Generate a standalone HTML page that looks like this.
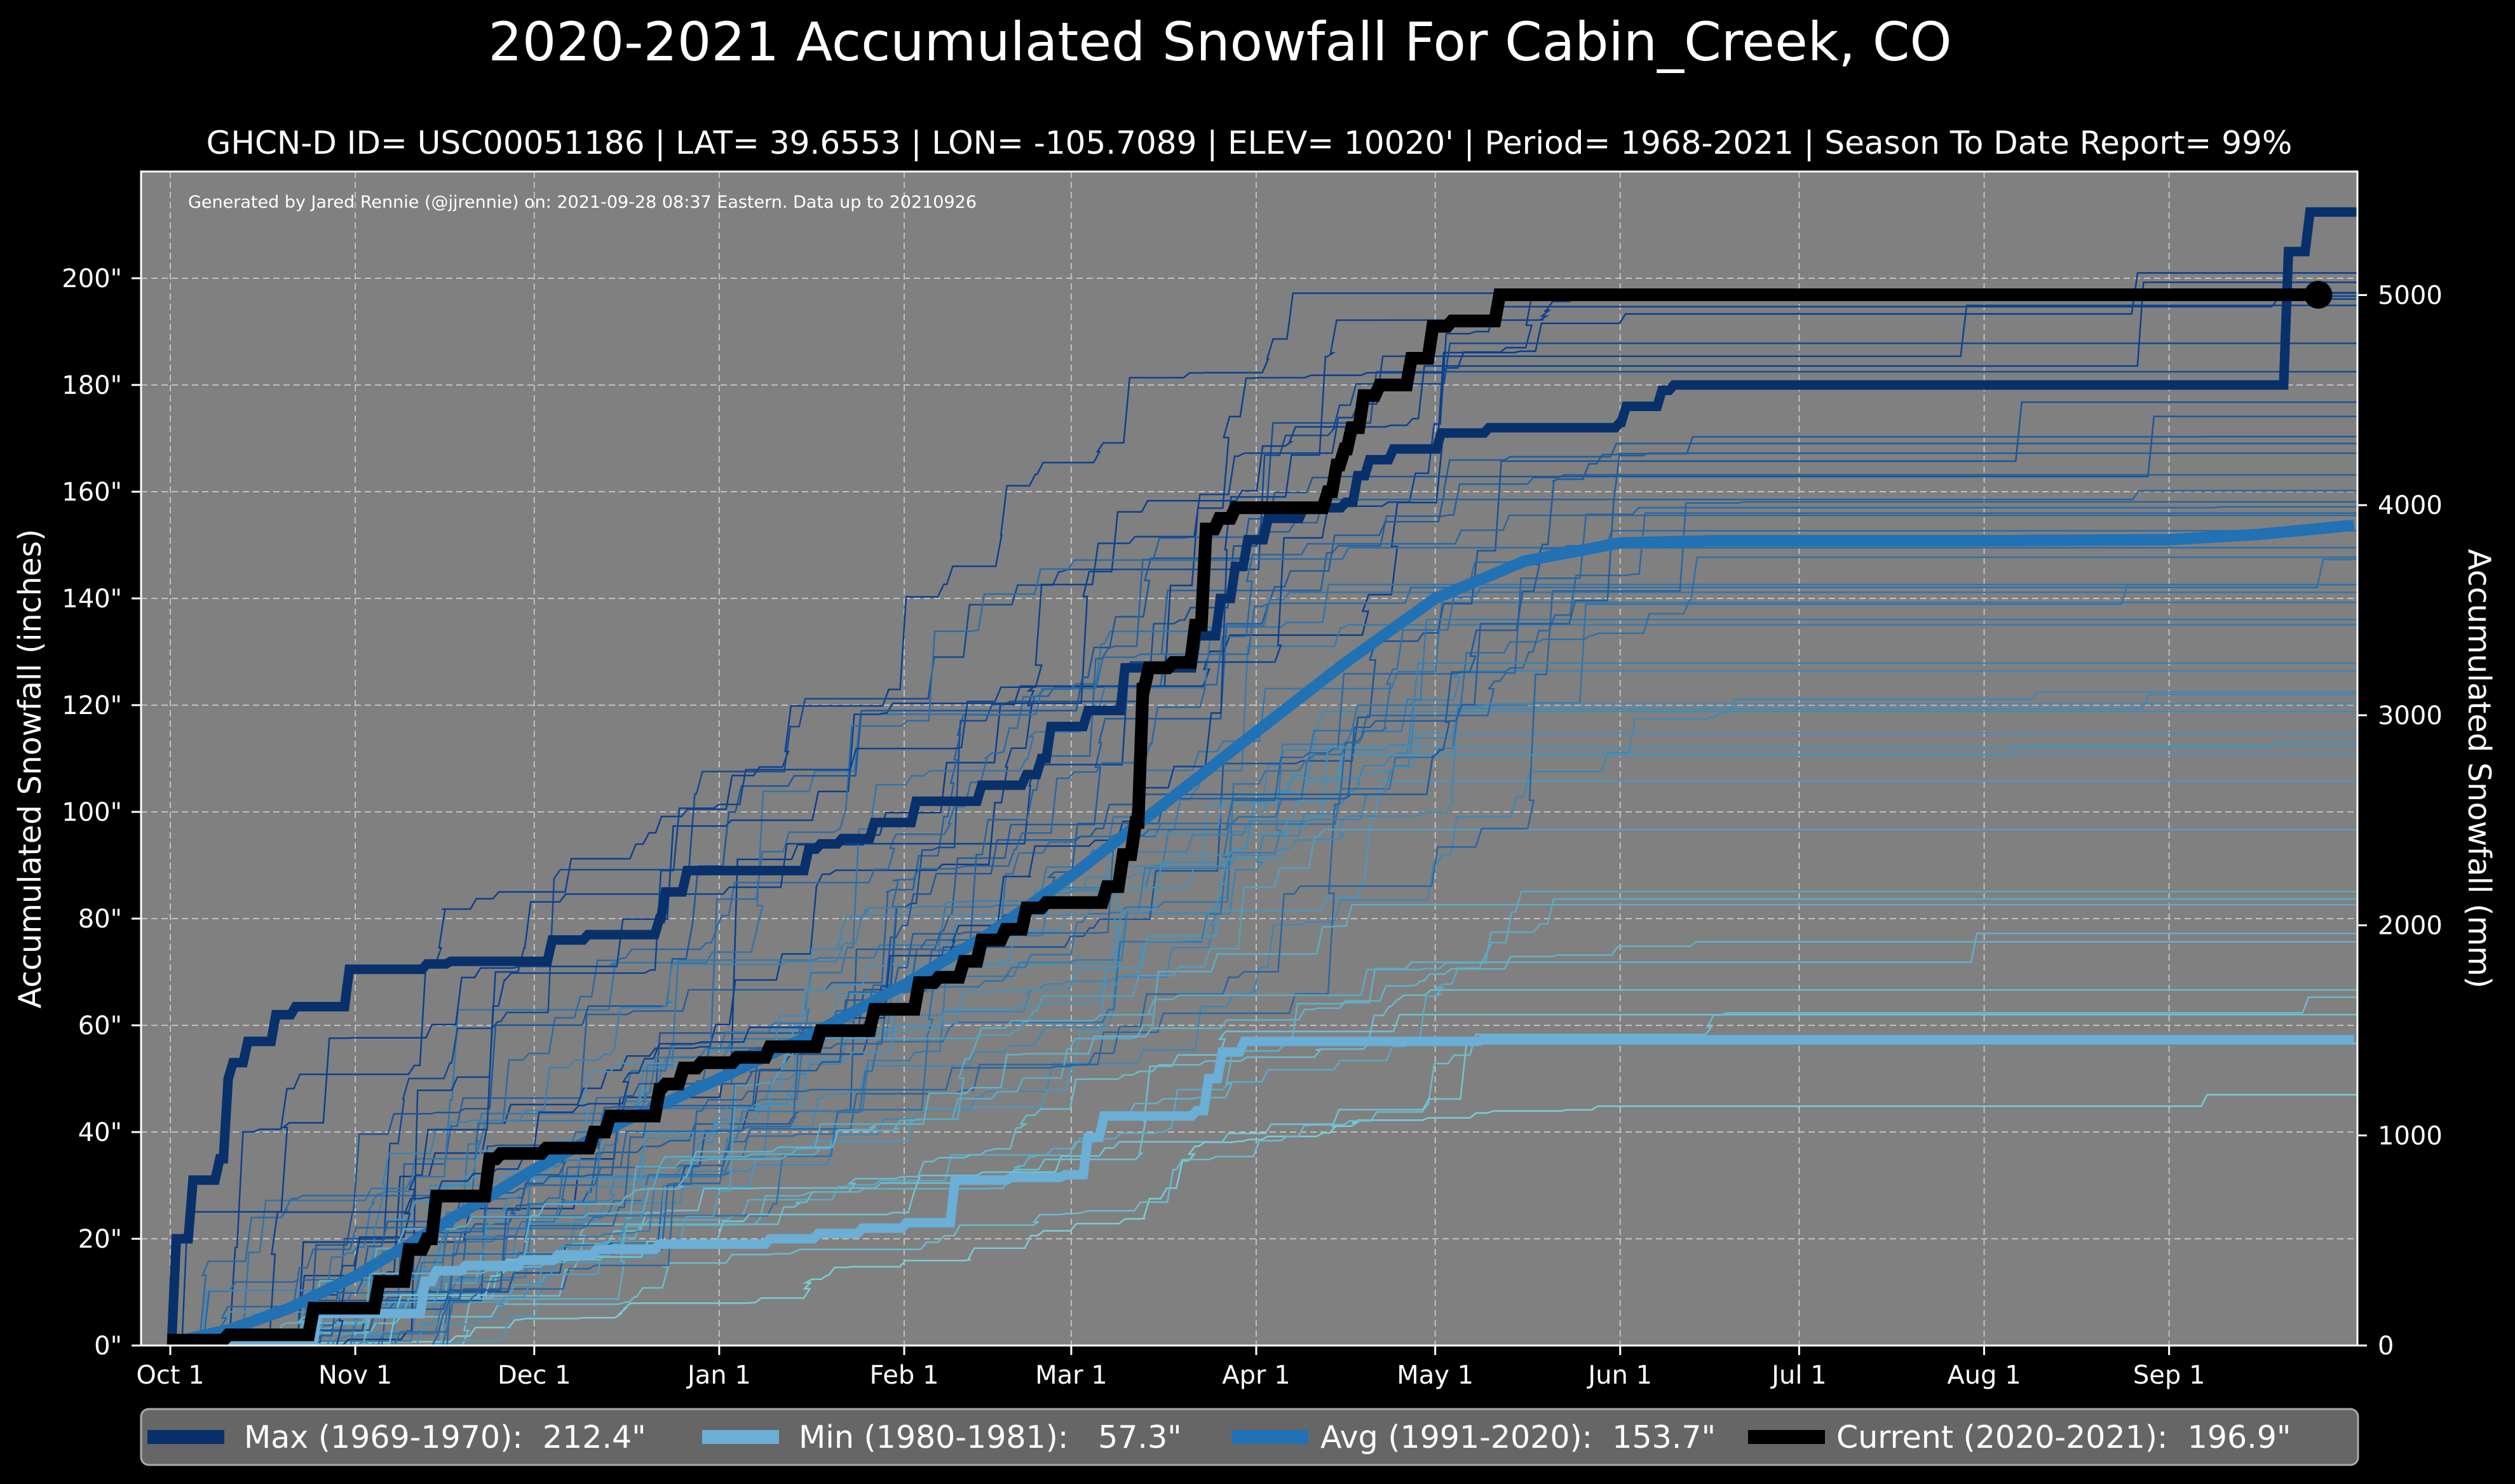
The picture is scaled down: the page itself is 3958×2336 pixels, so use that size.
<!DOCTYPE html>
<html><head><meta charset="utf-8"><style>
html,body{margin:0;padding:0;background:#000;}
svg{display:block;}
text{font-family:"DejaVu Sans","Liberation Sans",sans-serif;fill:#fff;}
</style></head><body>
<svg id="s" width="3958" height="2336" viewBox="0 0 3958 2336" xmlns="http://www.w3.org/2000/svg">
<rect width="3958" height="2336" fill="#000"/>
<text x="1920" y="95" font-size="84" text-anchor="middle">2020-2021 Accumulated Snowfall For Cabin_Creek, CO</text>
<text x="1966" y="242" font-size="50" text-anchor="middle">GHCN-D ID= USC00051186 | LAT= 39.6553 | LON= -105.7089 | ELEV= 10020' | Period= 1968-2021 | Season To Date Report= 99%</text>
<defs><clipPath id="c"><rect x="222" y="270" width="3488" height="1848"/></clipPath></defs>
<rect x="222" y="270" width="3488" height="1848" fill="#808080"/>
<g id="grid"></g>
<g id="bg" clip-path="url(#c)"></g>
<g id="main" clip-path="url(#c)"></g>
<text x="296" y="327" font-size="27">Generated by Jared Rennie (@jjrennie) on: 2021-09-28 08:37 Eastern. Data up to 20210926</text>
<rect x="222" y="270" width="3488" height="1848" fill="none" stroke="#fff" stroke-width="3"/>
<g id="ticks"></g>
<text transform="translate(64,1210) rotate(-90)" font-size="49" text-anchor="middle">Accumulated Snowfall (inches)</text>
<text transform="translate(3885,1210) rotate(90)" font-size="49" text-anchor="middle">Accumulated Snowfall (mm)</text>
<rect x="222" y="2218" width="3489" height="88" rx="12" fill="#666" stroke="#aaa" stroke-width="3"/>
<rect x="232" y="2251" width="121" height="22" fill="#08306b"/>
<text x="384" y="2279" font-size="49" xml:space="preserve">Max (1969-1970):  212.4"</text>
<rect x="1105" y="2251" width="121" height="22" fill="#6baed6"/>
<text x="1257" y="2279" font-size="49" xml:space="preserve">Min (1980-1981):   57.3"</text>
<rect x="1938" y="2251" width="121" height="22" fill="#2171b5"/>
<text x="2078" y="2279" font-size="49" xml:space="preserve">Avg (1991-2020):  153.7"</text>
<rect x="2751" y="2251" width="121" height="22" fill="#000"/>
<text x="2890" y="2279" font-size="49" xml:space="preserve">Current (2020-2021):  196.9"</text>
</svg>
<script>
var NS="http://www.w3.org/2000/svg";
function X(d){return 268+9.39*d;}
function Y(v){return 2118-8.4*v;}
function el(p,tag,attrs,txt){var e=document.createElementNS(NS,tag);for(var k in attrs)e.setAttribute(k,attrs[k]);if(txt!==undefined)e.textContent=txt;document.getElementById(p).appendChild(e);return e;}
var months=[[0,"Oct 1"],[31,"Nov 1"],[61,"Dec 1"],[92,"Jan 1"],[123,"Feb 1"],[151,"Mar 1"],[182,"Apr 1"],[212,"May 1"],[243,"Jun 1"],[273,"Jul 1"],[304,"Aug 1"],[335,"Sep 1"]];
months.forEach(function(m){var x=X(m[0]);
 el("grid","line",{x1:x,x2:x,y1:270,y2:2118,stroke:"#c0c0c0","stroke-width":2,"stroke-dasharray":"10,6"});
 el("ticks","line",{x1:x,x2:x,y1:2118,y2:2133,stroke:"#fff","stroke-width":3});
 el("ticks","text",{x:x,y:2178,"font-size":40,"text-anchor":"middle"},m[1]);});
for(var v=0;v<=200;v+=20){var y=Y(v);
 if(v>0)el("grid","line",{x1:222,x2:3710,y1:y,y2:y,stroke:"#c0c0c0","stroke-width":2,"stroke-dasharray":"10,6"});
 el("ticks","line",{x1:207,x2:222,y1:y,y2:y,stroke:"#fff","stroke-width":3});
 el("ticks","text",{x:192,y:y+14,"font-size":40,"text-anchor":"end"},v+'"');}
for(var mm=0;mm<=5000;mm+=1000){var y=Y(mm/25.4);
 el("ticks","line",{x1:3710,x2:3725,y1:y,y2:y,stroke:"#fff","stroke-width":3});
 el("ticks","text",{x:3742,y:y+14,"font-size":40},String(mm));}
var seed=12345;function R(){seed=(seed*1103515245+12345)%2147483648;return seed/2147483648;}
function lerp(a,b,t){return Math.round(a+(b-a)*t);}
for(var i=0;i<52;i++){
 var T=47+Math.pow(R(),0.8)*155; if(i==0)T=47;if(i==1)T=201;if(i==2)T=62;
 var s=R()*35, e=195+R()*70, n=22+Math.floor(R()*25);
 var days=[],amts=[],sum=0;
 for(var k=0;k<n;k++){days.push(s+R()*(e-s));var a=-Math.log(R()+1e-6);amts.push(a);sum+=a;}
 days.sort(function(a,b){return a-b;});
 var late=R()<0.35?T*R()*0.08:0;
 var pts=[[-8,0],[days[0],0]],acc=0;
 for(var k=0;k<n;k++){acc+=amts[k]/sum*(T-late);pts.push([days[k]+1,acc]);if(k<n-1)pts.push([days[k+1],acc]);}
 if(late>0){var ld=300+R()*60;pts.push([ld,acc]);acc+=late;pts.push([ld+1,acc]);}
 pts.push([370,acc]);
 var t=Math.min(1,Math.max(0,(T-47)/155));
 var col="rgb("+lerp(120,8,t)+","+lerp(205,60,t)+","+lerp(215,140,t)+")";
 el("bg","polyline",{points:pts.map(function(p){return X(p[0]).toFixed(1)+","+Y(p[1]).toFixed(1);}).join(" "),fill:"none",stroke:col,"stroke-width":2.5});}
function line(d,col,w){el("main","polyline",{points:d.map(function(p){return X(p[0]).toFixed(1)+","+Y(p[1]).toFixed(1);}).join(" "),fill:"none",stroke:col,"stroke-width":w});}
function steps(start,list,end){var p=[[start,list[0][1]]];var cur=list[0][1];for(var i=1;i<list.length;i++){p.push([list[i][0]-0.8,cur]);cur=list[i][1];p.push([list[i][0],cur]);}p.push([end,cur]);return p;}
var avg=[[0,0.5],[10,3],[20,7],[31,13],[46,23],[61,33],[76,42],[92,50],[107,58],[123,67.6],[137,77],[151,88],[166,101],[182,115],[197,128],[212,140],[227,147],[243,150.4],[258,150.8],[300,150.8],[335,151],[350,152],[366,153.7]];
line(avg,"#2171b5",18);
var mn=[[0,0],[24.7,6],[42.7,12],[44.6,14],[49.5,15],[58.9,16],[65,17],[71.5,18],[82,19],[100.5,20],[108.6,21],[116,22],[123.4,23],[131.5,31],[141,31.5],[150,32],[153.8,39],[156.5,43],[172,44],[174,50],[176.3,55],[180,57],[220,57.3]];
line(steps(0,mn,366),"#6baed6",15);
var mx=[[0,0],[1,20],[3.8,31],[8.3,35],[9.7,50],[10.5,53],[13,57],[17.7,62],[21,63.5],[30,70.5],[43,71.5],[47,72],[64,76],[70,77],[82,80],[83,85],[86.6,89],[107,93],[109,94],[112.6,95],[118,98],[125,102],[136,105],[143.5,107],[146,110],[147.6,116],[153.8,119],[160,127],[172,133],[176,140],[178.5,146],[180.6,151],[184,155],[190,157],[197,158],[199,163],[201,166],[205,168],[213,171],[221,172],[243,173],[244,176],[250,179],[252,180],[355,205],[358.6,212.4]];
line(steps(1,mx,367),"#08306b",15);
var cu=[[0,1],[9.7,2],[24,7],[35,12],[40,18],[43,20],[44.6,28],[53.5,35],[55.4,36],[63,37],[71,40],[73.7,43],[82,48],[83,49],[86,52],[89,53],[95,54],[100.5,56],[109,59],[118,63],[125.5,68],[128.8,69],[133,72],[136,76],[140,78],[143.5,82],[146.8,83],[157,86],[159.7,92],[161.8,98],[163,123],[164,127],[168,128],[171.8,135],[173.6,153],[175.8,155],[178.5,157],[194,160],[195.5,165],[196.8,168],[198,172],[200,178],[202.7,180],[208,185],[211.6,191],[214.8,192],[222.8,196.9]];
line(steps(-0.5,cu,360),"#000",20);
el("main","circle",{cx:X(360),cy:Y(196.9),r:22,fill:"#000"});
</script>
</body></html>
